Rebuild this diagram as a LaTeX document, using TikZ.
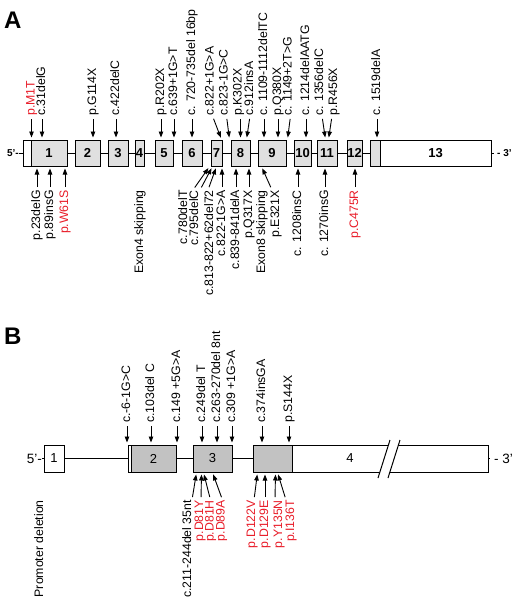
\documentclass[tikz,border=0pt]{standalone}
\usepackage{fontspec}
\setmainfont{Liberation Sans}
\usepackage{xcolor}
\usepackage{tikz}
\usetikzlibrary{arrows.meta}

\definecolor{mutred}{RGB}{232,28,40}
\definecolor{exonA}{RGB}{224,224,224}
\definecolor{exonB}{RGB}{194,194,194}

\begin{document}
\begin{tikzpicture}[x=1pt,y=-1pt,
        exon/.style={draw,line width=1pt,fill=exonA,inner sep=0pt,minimum height=26pt,font=\bfseries\fontsize{13}{13}\selectfont},
        exonb/.style={draw,line width=1pt,fill=exonB,inner sep=0pt,minimum height=27pt,font=\fontsize{13}{13}\selectfont},
        mut/.style={rotate=90,inner sep=0pt,text height=8.6pt,text depth=2.5pt,font=\fontsize{12.3}{12.3}\selectfont},
        toplab/.style={mut,anchor=west},
        botlab/.style={mut,anchor=east},
        hit/.style={-{Triangle[length=6pt,width=4.5pt]},line width=0.9pt,shorten <=3pt,shorten >=2pt},
        strand/.style={line width=1pt},
        panel/.style={anchor=north west,inner sep=0pt,font=\bfseries\fontsize{24}{24}\selectfont}]
    \useasboundingbox (0,0) rectangle (520,608);

    % ---- panel A
    \node[panel] (lA) at (4,12) {A};
    \node[anchor=east,inner sep=0pt,font=\bfseries\fontsize{10}{10}\selectfont] (p5a) at (19,153) {5'-};
    \node[anchor=west,inner sep=0pt,font=\bfseries\fontsize{10}{10}\selectfont] (p3a) at (497,153) {- 3'};
    \coordinate (n3a) at (494,153);
    \draw[strand] (p5a.east) -- (n3a);

    \node[exon,fill=white,minimum width=8pt] (a1u) at (27,153) {};
    \node[exon,minimum width=36pt] (a1) at (49,153) {1};
    \node[exon,minimum width=25pt] (a2) at (87.5,153) {2};
    \node[exon,minimum width=20pt] (a3) at (118,153) {3};
    \node[exon,minimum width=9pt] (a4) at (139.5,153) {4};
    \node[exon,minimum width=18pt] (a5) at (164,153) {5};
    \node[exon,minimum width=20pt] (a6) at (192,153) {6};
    \node[exon,minimum width=11pt] (a7) at (216.5,153) {7};
    \node[exon,minimum width=19pt] (a8) at (240.5,153) {8};
    \node[exon,minimum width=28pt] (a9) at (272,153) {9};
    \node[exon,minimum width=17pt] (a10) at (302.5,153) {10};
    \node[exon,minimum width=20pt] (a11) at (327,153) {11};
    \node[exon,minimum width=15pt] (a12) at (354.5,153) {12};
    \node[exon,minimum width=10pt] (a13c) at (375,153) {};
    \node[exon,fill=white,minimum width=111pt] (a13) at (435.5,153) {13};

    % mutations above
    \node[toplab,text=mutred] (t1) at (31.5,116) {p.M1T};
    \node[toplab] (t2) at (42,116) {c.31delG};
    \node[toplab] (t3) at (93,116) {p.G114X};
    \node[toplab] (t4) at (116,116) {c.422delC};
    \node[toplab] (t5) at (161,116) {p.R202X};
    \node[toplab] (t6) at (174,116) {c.639+1G>T};
    \node[toplab] (t7) at (192,116) {c. 720-735del 16bp};
    \node[toplab] (t8) at (210.5,116) {c.822+1G>A};
    \node[toplab] (t9) at (224.5,116) {c.823-1G>C};
    \node[toplab] (t10) at (238.5,116) {p.K302X};
    \node[toplab] (t11) at (250,116) {c.912insA};
    \node[toplab] (t12) at (264,116) {c. 1109-1112delTC};
    \node[toplab] (t13) at (278,116) {p.Q380X};
    \node[toplab] (t14) at (288.5,116) {c. 1149+2T>G};
    \node[toplab] (t15) at (306,116) {c. 1214delAATG};
    \node[toplab] (t16) at (320,116) {c. 1356delC};
    \node[toplab] (t17) at (334,116) {p.R456X};
    \node[toplab] (t18) at (377,116) {c. 1519delA};
    \draw[hit] (t1.west) -- (t1.west |- a1.north);
    \draw[hit] (t2.west) -- (t2.west |- a1.north);
    \draw[hit] (t3.west) -- (t3.west |- a2.north);
    \draw[hit] (t4.west) -- (t4.west |- a3.north);
    \draw[hit] (t5.west) -- (t5.west |- a5.north);
    \draw[hit] (t6.west) -- (t6.west |- a5.north);
    \draw[hit] (t7.west) -- (t7.west |- a6.north);
    \draw[hit] ([xshift=2pt]t8.west) -- ([xshift=-1pt]a7.north east);
    \draw[hit] ([xshift=2pt]t9.west) -- ([xshift=-1pt]a8.north west);
    \draw[hit] ([xshift=2pt]t10.west) -- ([xshift=2pt]t10.west |- a8.north);
    \draw[hit] (t11.west) -- ([xshift=-4pt]a8.north east);
    \draw[hit] (t12.west) -- (t12.west |- a9.north);
    \draw[hit] (t13.west) -- (t13.west |- a9.north);
    \draw[hit] ([xshift=2pt]t14.west) -- ([xshift=1pt]a9.north east);
    \draw[hit] (t15.west) -- (t15.west |- a10.north);
    \draw[hit] ([xshift=2pt]t16.west) -- ([xshift=9pt]a11.north west);
    \draw[hit] ([xshift=-2pt]t17.west) -- ([xshift=12pt]a11.north west);
    \draw[hit] (t18.west) -- (t18.west |- a13c.north);

    % mutations below
    \node[botlab] (s1) at (37,190) {p.23delG};
    \node[botlab] (s2) at (50,190) {p.89insG};
    \node[botlab,text=mutred] (s3) at (65,190) {p.W61S};
    \node[botlab] (s4) at (140,190) {Exon4 skipping};
    \node[botlab] (s5) at (184,190) {c.780delT};
    \node[botlab] (s6) at (195,190) {c.795delC};
    \node[botlab] (s7) at (210,190) {c.813-822+62del72};
    \node[botlab] (s8) at (222,190) {c.822-1G>A};
    \node[botlab] (s9) at (236,190) {c.839-841delA};
    \node[botlab] (s10) at (249,190) {p.Q317X};
    \node[botlab] (s11) at (262,190) {Exon8 skipping};
    \node[botlab] (s12) at (276,190) {p.E321X};
    \node[botlab] (s13) at (298,190) {c. 1208insC};
    \node[botlab] (s14) at (325,190) {c. 1270insG};
    \node[botlab,text=mutred] (s15) at (355,190) {p.C475R};
    \draw[hit] (s1.east) -- (s1.east |- a1.south);
    \draw[hit] (s2.east) -- (s2.east |- a1.south);
    \draw[hit] (s3.east) -- (s3.east |- a1.south);
    \draw[hit] ([xshift=9pt]s5.east) -- ([xshift=-1pt]a7.south west);
    \draw[hit] ([xshift=5pt]s6.east) -- ([xshift=2pt]a7.south west);
    \draw[hit] ([xshift=-2pt]s7.east) -- ([xshift=6pt]a7.south west);
    \draw[hit] (s8.east) -- (s8.east |- a7.south);
    \draw[hit] (s9.east) -- (s9.east |- a8.south);
    \draw[hit] (s10.east) -- (s10.east |- a8.south);
    \draw[hit] ([xshift=-4pt]s12.east) -- ([xshift=4pt]a9.south west);
    \draw[hit] (s13.east) -- (s13.east |- a10.south);
    \draw[hit] (s14.east) -- (s14.east |- a11.south);
    \draw[hit] (s15.east) -- (s15.east |- a12.south);

    % ---- panel B
    \node[panel] (lB) at (4,328) {B};
    \node[anchor=east,inner sep=0pt,font=\fontsize{13.5}{13.5}\selectfont] (p5b) at (42,458.5) {5'-};
    \node[anchor=west,inner sep=0pt,font=\fontsize{13.5}{13.5}\selectfont] (p3b) at (494,458.5) {- 3'};
    \coordinate (n3b) at (490,458.5);
    \draw[strand] (p5b.east) -- (n3b);

    \node[exonb,fill=white,minimum width=20pt] (b1) at (54,458.5) {1};
    \node[exonb,fill=white,minimum width=3pt] (b2u) at (129.5,458.5) {};
    \node[exonb,minimum width=45pt] (b2) at (153.5,458.5) {2};
    \node[exonb,minimum width=39pt] (b3) at (212.5,458.5) {3};
    \node[exonb,minimum width=39pt] (b4c) at (272.5,458.5) {};
    \node[exonb,fill=white,minimum width=196pt] (b4) at (390,458.5) {};
    \node[inner sep=0pt,font=\fontsize{13}{13}\selectfont] (n4) at (350,458.5) {4};
    % break in exon 4
    \fill[white] (378,478) -- (390,440) -- (400,440) -- (388,478) -- cycle;
    \draw[strand] (378,478) -- (390,440);
    \draw[strand] (388,478) -- (400,440);

    % mutations above
    \node[toplab] (v1) at (127,423) {c.-6-1G>C};
    \node[toplab] (v2) at (151,423) {c.103del C};
    \node[toplab] (v3) at (177,423) {c.149 +5G>A};
    \node[toplab] (v4) at (202,423) {c.249del T};
    \node[toplab] (v5) at (217,423) {c.263-270del 8nt};
    \node[toplab] (v6) at (232,423) {c.309 +1G>A};
    \node[toplab] (v7) at (262,423) {c.374insGA};
    \node[toplab] (v8) at (289,423) {p.S144X};
    \draw[hit] (v1.west) -- (v1.west |- b2u.north);
    \draw[hit] (v2.west) -- (v2.west |- b2.north);
    \draw[hit] (v3.west) -- (v3.west |- b2.north);
    \draw[hit] (v4.west) -- (v4.west |- b3.north);
    \draw[hit] (v5.west) -- (v5.west |- b3.north);
    \draw[hit] (v6.west) -- (v6.west |- b3.north);
    \draw[hit] (v7.west) -- (v7.west |- b4c.north);
    \draw[hit] (v8.west) -- (v8.west |- b4c.north);

    % mutations below
    \node[botlab] (u1) at (40,500) {Promoter deletion};
    \node[botlab] (u2) at (188,500) {c.211-244del 35nt};
    \node[botlab,text=mutred] (u3) at (200,500) {p.D81Y};
    \node[botlab,text=mutred] (u4) at (210.5,500) {p.D81H};
    \node[botlab,text=mutred] (u5) at (221.5,500) {p.D89A};
    \node[botlab,text=mutred] (u6) at (252,500) {p.D122V};
    \node[botlab,text=mutred] (u7) at (265,500) {p.D129E};
    \node[botlab,text=mutred] (u8) at (279,500) {p.Y135N};
    \node[botlab,text=mutred] (u9) at (291,500) {p.I136T};
    \draw[hit] ([xshift=4pt]u2.east) -- ([xshift=4pt]b3.south west);
    \draw[hit] ([xshift=1pt]u3.east) -- ([xshift=9pt]b3.south west);
    \draw[hit] (u4.east) -- ([xshift=11pt]b3.south west);
    \draw[hit] ([xshift=1pt]u5.east) -- ([xshift=20pt]b3.south west);
    \draw[hit] ([xshift=2pt]u6.east) -- ([xshift=5pt]b4c.south west);
    \draw[hit] (u7.east) -- (u7.east |- b4c.south);
    \draw[hit] ([xshift=-4pt]u8.east) -- ([xshift=23pt]b4c.south west);
    \draw[hit] ([xshift=-5pt]u9.east) -- ([xshift=25pt]b4c.south west);
\end{tikzpicture}
\end{document}
